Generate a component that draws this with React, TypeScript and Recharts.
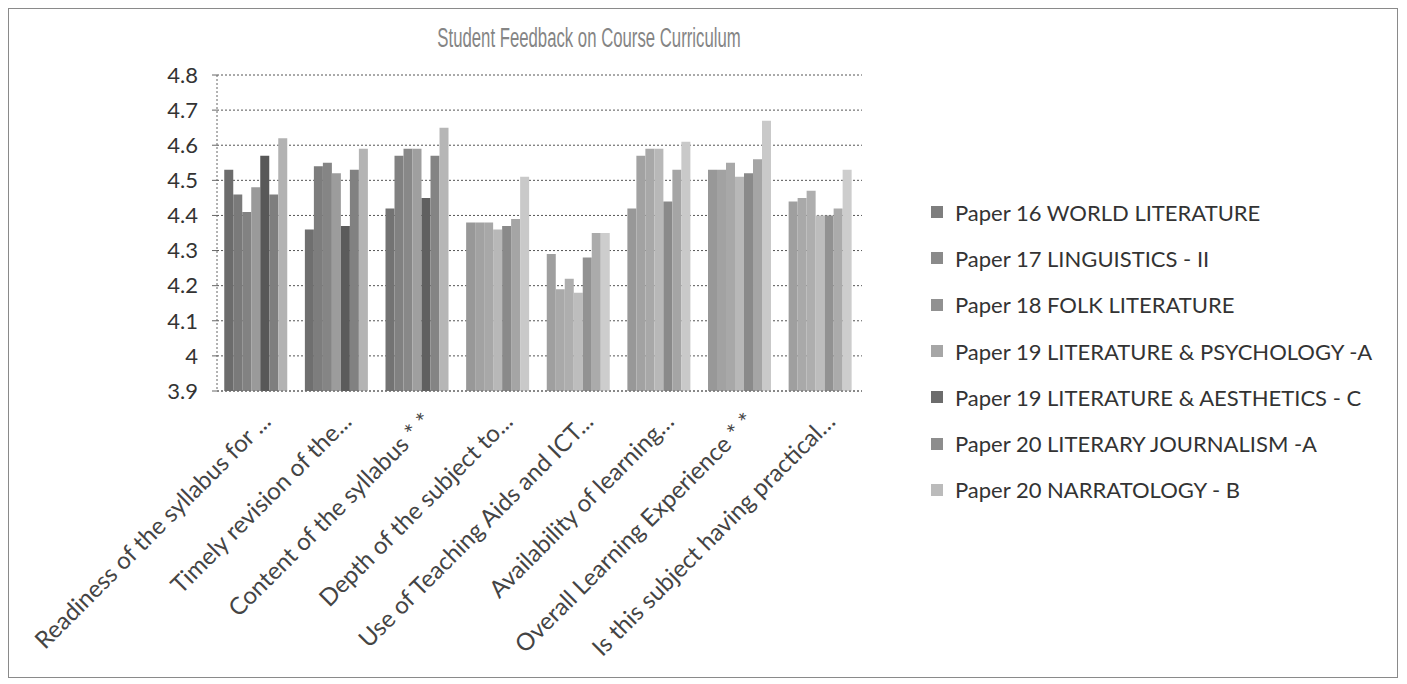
import { BarChart, Bar, XAxis, YAxis, CartesianGrid, Legend, Cell } from "recharts";

// Student feedback on course curriculum — scanned Excel chart, grey shades only.
const CATEGORIES = [
  "Readiness of the syllabus for ...",
  "Timely revision of the...",
  "Content of the syllabus * *",
  "Depth of the subject to...",
  "Use of Teaching Aids and ICT...",
  "Availability of learning…",
  "Overall Learning Experience * *",
  "Is this subject having practical…",
];

const P16_WORLD = [4.53, 4.36, 4.42, 4.38, 4.29, 4.42, 4.53, 4.44];
const P17_LING = [4.46, 4.54, 4.57, 4.38, 4.19, 4.57, 4.53, 4.45];
const P18_FOLK = [4.41, 4.55, 4.59, 4.38, 4.22, 4.59, 4.55, 4.47];
const P19_PSY = [4.48, 4.52, 4.59, 4.36, 4.18, 4.59, 4.51, 4.4];
const P19_AES = [4.57, 4.37, 4.45, 4.37, 4.28, 4.44, 4.52, 4.4];
const P20_JOUR = [4.46, 4.53, 4.57, 4.39, 4.35, 4.53, 4.56, 4.42];
const P20_NARR = [4.62, 4.59, 4.65, 4.51, 4.35, 4.61, 4.67, 4.53];

const Y_TICKS = [3.9, 4, 4.1, 4.2, 4.3, 4.4, 4.5, 4.6, 4.7, 4.8];

const SERIES = [
  { key: "p16", name: "Paper 16 WORLD LITERATURE", values: P16_WORLD, grey: 108 },
  { key: "p17", name: "Paper 17 LINGUISTICS - II", values: P17_LING, grey: 122 },
  { key: "p18", name: "Paper 18 FOLK LITERATURE", values: P18_FOLK, grey: 130 },
  { key: "p19a", name: "Paper 19 LITERATURE & PSYCHOLOGY -A", values: P19_PSY, grey: 154 },
  { key: "p19c", name: "Paper 19 LITERATURE & AESTHETICS - C", values: P19_AES, grey: 88 },
  { key: "p20a", name: "Paper 20 LITERARY JOURNALISM -A", values: P20_JOUR, grey: 126 },
  { key: "p20b", name: "Paper 20 NARRATOLOGY - B", values: P20_NARR, grey: 178 },
];

// the scan is lighter on the right half of the plot
const FADE = [0, 0.02, 0.05, 0.3, 0.35, 0.3, 0.3, 0.35];

const shade = (g: number, fade: number) => {
  const v = Math.round(g + (255 - g) * fade);
  return `rgb(${v},${v},${v})`;
};

const FONT = "Lato, 'Open Sans', sans-serif";

const data = CATEGORIES.map((cat, i) => {
  const row: Record<string, string | number> = { category: cat };
  for (const s of SERIES) row[s.key] = s.values[i];
  return row;
});

function XTick({ x, y, payload }: any) {
  const ax = x + 15;
  const ay = y + 24;
  return (
    <text
      x={ax}
      y={ay}
      transform={`rotate(-45, ${ax}, ${ay})`}
      textAnchor="end"
      fontSize={24}
      fontFamily={FONT}
      fill="#444"
    >
      {payload.value}
    </text>
  );
}

function LegendList({ payload }: any) {
  const order = SERIES.map((s) => s.name);
  const items = [...(payload || [])].sort((a: any, b: any) => order.indexOf(a.value) - order.indexOf(b.value));
  return (
    <div style={{ fontFamily: FONT }}>
      {items.map((p: any) => (
        <div key={p.value} style={{ display: "flex", alignItems: "center", height: 46.3 }}>
          <span style={{ width: 12, height: 12, background: p.color, marginRight: 12, display: "inline-block" }} />
          <span style={{ fontSize: 22, color: "#333" }}>{p.value}</span>
        </div>
      ))}
    </div>
  );
}

export default function App() {
  return (
    <div style={{ position: "relative", width: 1390, height: 670, border: "1px solid #8a8a8a", boxSizing: "border-box", background: "#fff" }}>
      <div
        style={{
          position: "absolute",
          left: 280,
          width: 600,
          top: 14,
          textAlign: "center",
          fontFamily: "'Liberation Sans', sans-serif",
          fontSize: 27,
          color: "#858585",
          transform: "scaleX(0.62)",
        }}
      >
        Student Feedback on Course Curriculum
      </div>
      <BarChart
        width={1388}
        height={668}
        data={data}
        margin={{ top: 66, right: 535, left: 0, bottom: 0 }}
        barCategoryGap="9%"
        barGap={0}
      >
        <CartesianGrid vertical={false} stroke="#555" strokeDasharray="2 2" />
        <XAxis
          dataKey="category"
          interval={0}
          height={286}
          tickLine={false}
          axisLine={{ stroke: "#666", strokeDasharray: "2 2" }}
          tick={<XTick />}
        />
        <YAxis
          width={208}
          domain={[3.9, 4.8]}
          ticks={Y_TICKS}
          allowDataOverflow
          tickSize={5}
          tickMargin={14}
          tickLine={{ stroke: "#666" }}
          axisLine={{ stroke: "#666", strokeDasharray: "2 2" }}
          tick={{ fontSize: 22, fontFamily: FONT, fill: "#333" }}
        />
        <Legend
          layout="vertical"
          align="center"
          verticalAlign="middle"
          wrapperStyle={{ left: 922, top: 180, width: 460, height: 330 }}
          content={<LegendList />}
        />
        {SERIES.map((s) => (
          <Bar key={s.key} dataKey={s.key} name={s.name} fill={shade(s.grey, 0.12)} isAnimationActive={false}>
            {CATEGORIES.map((c, i) => (
              <Cell key={c} fill={shade(s.grey, FADE[i])} />
            ))}
          </Bar>
        ))}
      </BarChart>
    </div>
  );
}
